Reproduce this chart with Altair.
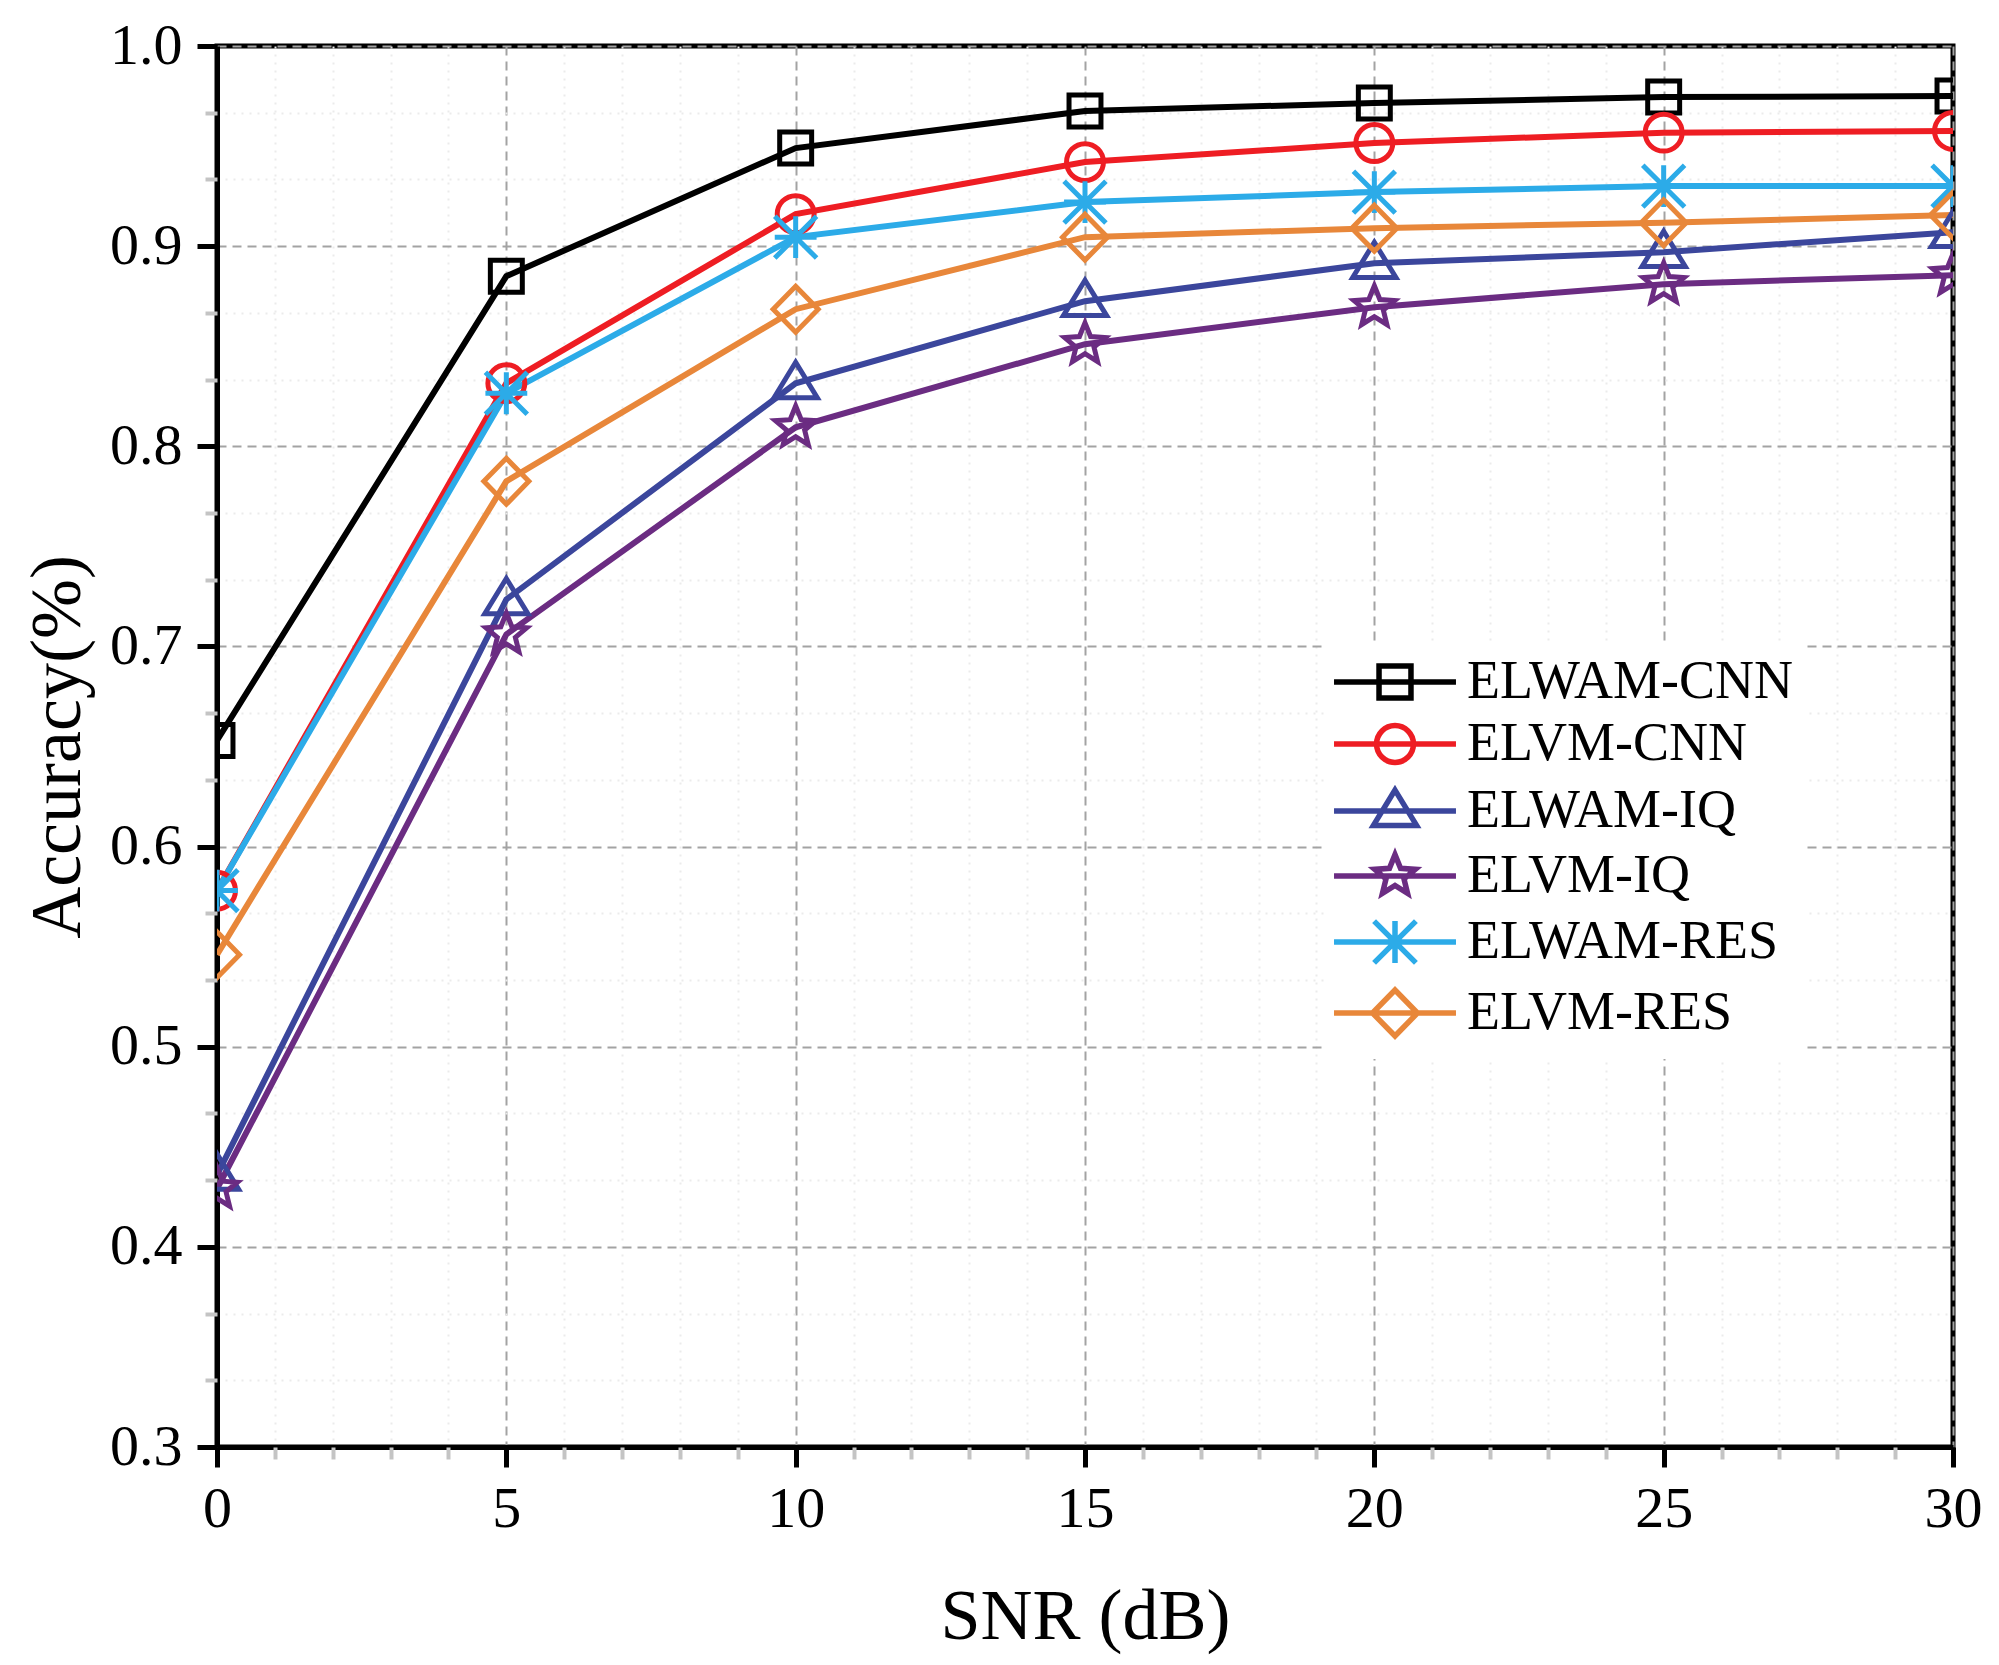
import altair as alt
import pandas as pd

# ---------------- data ----------------
snr = [0, 5, 10, 15, 20, 25, 30]
models = ["ELWAM-CNN", "ELVM-CNN", "ELWAM-IQ", "ELVM-IQ", "ELWAM-RES", "ELVM-RES"]
elwam_cnn = [0.653, 0.885, 0.949, 0.9675, 0.9715, 0.9745, 0.975]
elvm_cnn = [0.578, 0.8315, 0.916, 0.942, 0.9515, 0.9567, 0.9575]
elwam_iq = [0.436, 0.7235, 0.8315, 0.8725, 0.8915, 0.897, 0.907]
elvm_iq = [0.429, 0.706, 0.8095, 0.851, 0.8695, 0.881, 0.8855]
elwam_res = [0.578, 0.8265, 0.9045, 0.922, 0.927, 0.930, 0.930]
elvm_res = [0.546, 0.7825, 0.8685, 0.9045, 0.909, 0.9117, 0.9155]
series = [elwam_cnn, elvm_cnn, elwam_iq, elvm_iq, elwam_res, elvm_res]

x_major = [0, 5, 10, 15, 20, 25, 30]
y_major = [0.3, 0.4, 0.5, 0.6, 0.7, 0.8, 0.9, 1.0]

# ---------------- styles ----------------
colors = ["#000000", "#EE1D23", "#3B469C", "#6B2C82", "#2CABE8", "#E8873A"]
square = "M-0.71,-0.71H0.71V0.71H-0.71Z"
circle = "M0.82,0A0.82,0.82,0,1,1,-0.82,0A0.82,0.82,0,1,1,0.82,0Z"
triangle = "M0,-0.93L0.96,0.64L-0.96,0.64Z"
star = ("M0,-0.95L0.247,-0.34L0.904,-0.294L0.4,0.13L0.558,0.769L0,0.42"
        "L-0.558,0.769L-0.4,0.13L-0.904,-0.294L-0.247,-0.34Z")
asterisk = ("M-0.93,0H0.93M0,-0.93V0.93M-0.93,-0.93L0.93,0.93"
            "M0.93,-0.93L-0.93,0.93")
diamond = "M0,-1.02L1,0L0,1.02L-1,0Z"
shapes = [square, circle, triangle, star, asterisk, diamond]
legend_line = "M-2.71,0H2.71"
legend_shapes = [legend_line + s for s in shapes]

FONT = "Liberation Serif"
MSIZE = 2025

rows = []
for m, vals in zip(models, series):
    for s, v in zip(snr, vals):
        rows.append({"SNR": s, "Accuracy": v, "Model": m})
df = pd.DataFrame(rows)

x_minor = [v for v in range(0, 31) if v % 5 != 0]
y_minor = [round(0.3 + k / 30, 6) for k in range(0, 22) if k % 3 != 0]

xscale = alt.Scale(domain=[0, 30], nice=False)
yscale = alt.Scale(domain=[0.3, 1.0], nice=False, zero=False)


def cscale():
    return alt.Scale(domain=models, range=colors)


major_common = dict(
    labelFont=FONT, labelFontSize=58, labelColor="black",
    tickColor="black", tickWidth=5, tickSize=20,
    domainColor="black", domainWidth=5,
    grid=True, gridColor="#a3a3a3", gridDash=[9, 6], gridWidth=2,
    titleFont=FONT, titleFontSize=72, titleFontWeight="normal", titleColor="black",
    labelFlush=False, labelOverlap=False,
)
x_axis_major = alt.Axis(values=x_major, format="d", orient="bottom",
                        labelPadding=13, title="SNR (dB)", titlePadding=43,
                        **major_common)
y_axis_major = alt.Axis(values=y_major, format=".1f", orient="left",
                        labelPadding=15, title="Accuracy(%)", titlePadding=15,
                        **major_common)

minor_common = dict(
    labels=False, domain=False, ticks=True,
    tickColor="#c4c4c4", tickWidth=4, tickSize=12,
    grid=True, gridColor="#ebebeb", gridDash=[2, 6], gridWidth=2,
    title=None,
)
x_axis_minor = alt.Axis(values=x_minor, orient="bottom", **minor_common)
y_axis_minor = alt.Axis(values=y_minor, orient="left", **minor_common)

legend_props = dict(
    title=None, orient="none", legendX=1108, legendY=597,
    fillColor="white", padding=12,
    labelFont=FONT, labelFontSize=54, labelColor="black", labelLimit=700,
    labelOffset=45, symbolOffset=31,
    symbolSize=MSIZE, symbolStrokeWidth=5.5, symbolOpacity=1,
    symbolFillColor="transparent",
)

base = alt.Chart(df)

lines = base.mark_line(strokeWidth=6, clip=True).encode(
    x=alt.X("SNR:Q", scale=xscale, axis=x_axis_major),
    y=alt.Y("Accuracy:Q", scale=yscale, axis=y_axis_major),
    color=alt.Color("Model:N", scale=cscale(), legend=None),
    detail="Model:N",
)

points = base.mark_point(filled=False, size=MSIZE, strokeWidth=5, opacity=1, clip=True).encode(
    x=alt.X("SNR:Q", scale=xscale, axis=x_axis_minor),
    y=alt.Y("Accuracy:Q", scale=yscale, axis=y_axis_minor),
    color=alt.Color("Model:N", scale=cscale(), legend=None),
    shape=alt.Shape("Model:N", scale=alt.Scale(domain=models, range=shapes), legend=None),
)

legend_layer = base.mark_point(filled=False, size=MSIZE, strokeWidth=5.5, opacity=0, clip=True).encode(
    x=alt.X("SNR:Q", scale=xscale, axis=None),
    y=alt.Y("Accuracy:Q", scale=yscale, axis=None),
    color=alt.Color("Model:N", scale=cscale(), legend=alt.Legend(**legend_props)),
    shape=alt.Shape("Model:N", scale=alt.Scale(domain=models, range=legend_shapes),
                    legend=alt.Legend(**legend_props)),
)

chart = (
    alt.layer(lines, points, legend_layer)
    .resolve_scale(shape="independent", color="independent")
    .resolve_axis(x="independent", y="independent")
    .properties(
        width=1736, height=1401,
        autosize=alt.AutoSizeParams(type="none"),
        padding={"left": 209, "top": 38, "right": 30, "bottom": 216},
        background="white",
    )
    .configure_view(stroke="black", strokeWidth=5)
    .configure_legend(rowPadding=5)
)

chart.save("out.html", embed_options={"renderer": "svg", "actions": False})
